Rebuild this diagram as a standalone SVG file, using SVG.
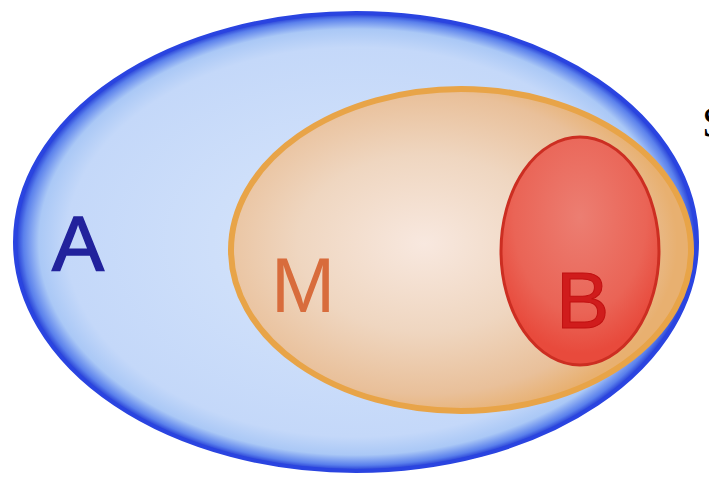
<svg xmlns="http://www.w3.org/2000/svg" width="709" height="478" viewBox="0 0 709 478">
<defs>
<radialGradient id="gA" cx="0.5" cy="0.5" r="0.5">
<stop offset="0" stop-color="#d8e6fb"/>
<stop offset="0.85" stop-color="#c4d8f9"/>
<stop offset="0.93" stop-color="#aac8f6"/>
<stop offset="0.975" stop-color="#5a80ec"/>
<stop offset="1" stop-color="#1e34d4"/>
</radialGradient>
<radialGradient id="gM" cx="0.42" cy="0.48" r="0.55">
<stop offset="0" stop-color="#f8e8df"/>
<stop offset="0.5" stop-color="#efd6c0"/>
<stop offset="0.85" stop-color="#e9c09a"/>
<stop offset="1" stop-color="#e8b070"/>
</radialGradient>
<radialGradient id="gB" cx="0.5" cy="0.35" r="0.6">
<stop offset="0" stop-color="#ec7e72"/>
<stop offset="0.7" stop-color="#ea6456"/>
<stop offset="1" stop-color="#e84a3c"/>
</radialGradient>
<style>
text{font-family:"Liberation Sans",Arial,sans-serif}
</style>
</defs>
<rect width="709" height="478" fill="#ffffff"/>
<g id="A">
<ellipse cx="356" cy="242" rx="341" ry="229" fill="url(#gA)" stroke="#2a44e0" stroke-width="4"/>
<text x="52" y="271" font-size="78" fill="#22229c" stroke="#22229c" stroke-width="1.5">A</text>
</g>
<g id="M">
<ellipse cx="461" cy="250" rx="230" ry="161" fill="url(#gM)" stroke="#e8a448" stroke-width="6"/>
<text x="271" y="312" font-size="77" fill="#d86c3c">M</text>
</g>
<g id="B">
<ellipse cx="580" cy="251" rx="79" ry="114" fill="url(#gB)" stroke="#cc2e22" stroke-width="3"/>
<text x="556" y="328" font-size="80" fill="#d01c1c" stroke="#c01010" stroke-width="1">B</text>
</g>
<g id="S">
<text x="702" y="137" font-size="44" fill="#000000" style="font-family:'Liberation Serif','Times New Roman',serif">S</text>
</g>
</svg>
